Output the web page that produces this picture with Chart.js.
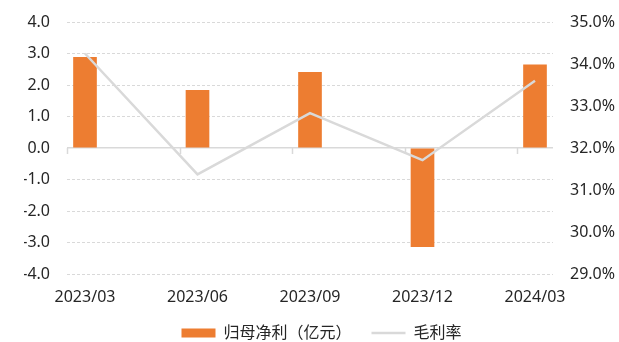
<!DOCTYPE html>
<html>
<head>
<meta charset="utf-8">
<script src="https://cdn.jsdelivr.net/npm/chart.js@4.4.1/dist/chart.umd.min.js"></script>
<style>
  html, body { margin: 0; padding: 0; background: #fff; }
  #wrap { width: 619px; height: 342px; }
</style>
</head>
<body>
<div id="wrap"><canvas id="profitChart" width="619" height="342"></canvas></div>
<script>
// quarter labels
const quarters = ["2023/03", "2023/06", "2023/09", "2023/12", "2024/03"];
// net profit attributable to parent (100m CNY)
const netProfit = [2.88, 1.83, 2.40, -3.13, 2.64];
// gross margin (%)
const grossMargin = [34.25, 31.37, 32.83, 31.71, 33.60];

const profitTicks = [-4, -3, -2, -1, 0, 1, 2, 3, 4];
const marginTicks = [29, 30, 31, 32, 33, 34, 35];

const ORANGE = "#ED7D31";
const GREY = "#D9D9D9";
const TEXT = "#262626";

// bars/points sit on whole numbers, the axis runs a bit past them on both sides
const edge = 0.16;

Chart.defaults.font.family = '"Noto Sans", "Noto Sans CJK SC", sans-serif';
Chart.defaults.font.size = 16;
Chart.defaults.color = TEXT;

// y axes: fixed width, and don't reserve room above/below for the end labels
const fixAxis = (width) => (scale) => {
  scale.width = width;
  scale.paddingTop = 0;
  scale.paddingBottom = 0;
};

// little tick marks hanging below the zero line, between the quarters
const zeroTicks = {
  id: "zeroTicks",
  afterDatasetsDraw(chart) {
    const { ctx, scales } = chart;
    const y0 = scales.y.getPixelForValue(0);
    ctx.save();
    ctx.strokeStyle = GREY;
    ctx.lineWidth = 1.5;
    quarters.forEach((q, i) => {
      const x = Math.round(scales.x.getPixelForValue(i - edge)) + 0.5;
      ctx.beginPath();
      ctx.moveTo(x, y0);
      ctx.lineTo(x, y0 + 6);
      ctx.stroke();
    });
    ctx.restore();
  }
};

const ctx = document.getElementById("profitChart").getContext("2d");
new Chart(ctx, {
  type: "bar",
  data: {
    datasets: [
      {
        label: "归母净利（亿元）",
        data: netProfit.map((v, i) => ({ x: i, y: v })),
        backgroundColor: ORANGE,
        borderWidth: 0,
        barThickness: 23,
        pointStyle: "rect",
        yAxisID: "y",
        order: 1
      },
      {
        label: "毛利率",
        type: "line",
        data: grossMargin.map((v, i) => ({ x: i, y: v })),
        borderColor: GREY,
        backgroundColor: GREY,
        borderWidth: 2.5,
        pointRadius: 0,
        pointStyle: "line",
        tension: 0,
        yAxisID: "y1",
        order: 0
      }
    ]
  },
  options: {
    responsive: false,
    animation: false,
    devicePixelRatio: 1,
    layout: { padding: { top: 22, left: 24, right: 0, bottom: -9 } },
    scales: {
      x: {
        type: "linear",
        offset: false,
        min: -edge,
        max: quarters.length - 1 + edge,
        grid: { display: false, drawTicks: false, offset: false },
        border: { display: false },
        afterBuildTicks: (scale) => {
          scale.ticks = quarters.map((q, i) => ({ value: i }));
        },
        afterFit: (scale) => { scale.height = 31; },
        ticks: {
          padding: 14,
          autoSkip: false,
          maxRotation: 0,
          callback: (value) => quarters[value]
        }
      },
      y: {
        position: "left",
        min: -4,
        max: 4,
        afterBuildTicks: (scale) => {
          scale.ticks = profitTicks.map((v) => ({ value: v }));
        },
        afterFit: fixAxis(43),
        grid: {
          drawTicks: false,
          color: GREY,
          lineWidth: (c) => (c.tick && c.tick.value === 0 ? 1.5 : 1)
        },
        border: {
          display: false,
          dash: (c) => (c.tick && c.tick.value === 0 ? [] : [3, 2])
        },
        ticks: {
          padding: 17,
          callback: (value) => value.toFixed(1)
        }
      },
      y1: {
        position: "right",
        min: 29,
        max: 35,
        afterBuildTicks: (scale) => {
          scale.ticks = marginTicks.map((v) => ({ value: v }));
        },
        afterFit: fixAxis(66),
        grid: { display: false, drawTicks: false },
        border: { display: false },
        ticks: {
          padding: 17,
          callback: (value) => value.toFixed(1) + "%"
        }
      }
    },
    plugins: {
      tooltip: { enabled: false },
      legend: {
        position: "bottom",
        labels: {
          usePointStyle: true,
          pointStyleWidth: 34,
          boxHeight: 9,
          padding: 20,
          color: TEXT,
          sort: (a, b) => a.datasetIndex - b.datasetIndex
        }
      }
    }
  },
  plugins: [zeroTicks]
});
</script>
</body>
</html>
